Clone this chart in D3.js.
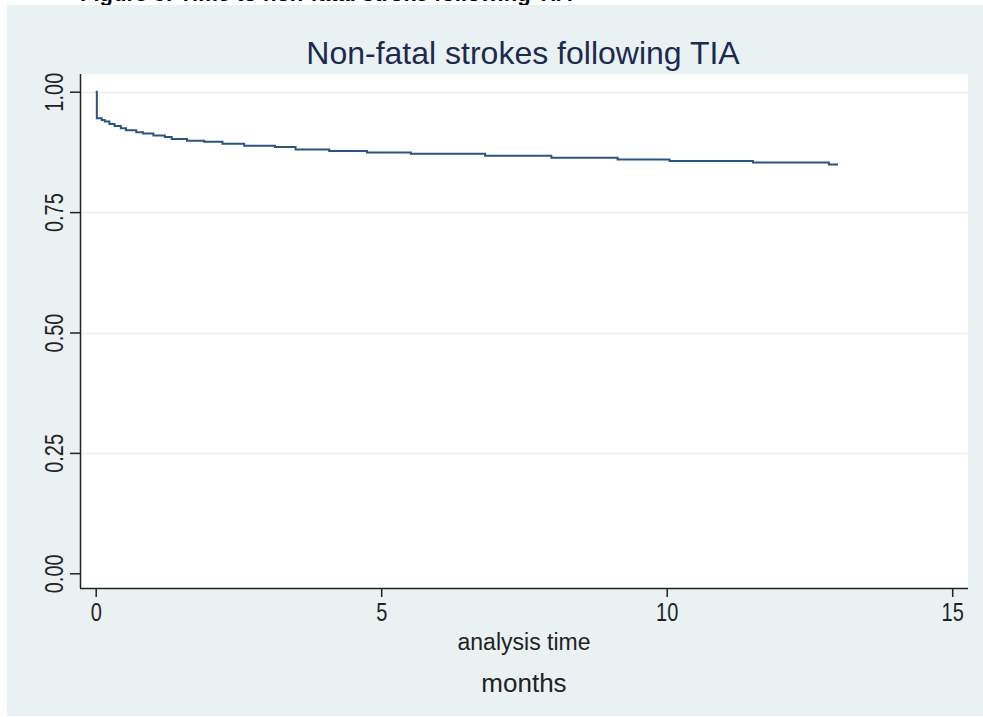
<!DOCTYPE html>
<html>
<head>
<meta charset="utf-8">
<script src="https://cdn.jsdelivr.net/npm/d3@7"></script>
<style>
  html, body { margin: 0; padding: 0; background: #ffffff; }
  svg { display: block; }
</style>
</head>
<body>
<svg id="chart" width="983" height="717"></svg>
<script>
// Kaplan-Meier estimate: time of each step (months) and survival after it
const stepTimes = [0, 0.02, 0.105, 0.16, 0.24, 0.33, 0.44, 0.53, 0.71, 0.83, 1.01, 1.21, 1.33,
  1.60, 1.90, 2.22, 2.60, 3.14, 3.50, 4.09, 4.75, 5.52, 6.82, 7.98, 9.14, 10.05, 11.51, 12.84];
const survival = [1.0, 0.945, 0.941, 0.938, 0.933, 0.929, 0.924, 0.920, 0.916, 0.913, 0.909, 0.906, 0.902,
  0.898, 0.896, 0.892, 0.888, 0.885, 0.880, 0.877, 0.874, 0.871, 0.867, 0.863, 0.859, 0.856, 0.853, 0.849];
const lastTime = 13.0;

const xTicks = [0, 5, 10, 15];
const yTicks = [0, 0.25, 0.5, 0.75, 1.0];
const yTickLabels = ["0.00", "0.25", "0.50", "0.75", "1.00"];

const titleText = "Non-fatal strokes following TIA";
const xTitle = "analysis time";
const xSubTitle = "months";
const captionText = "Figure 3: Time to non-fatal stroke following TIA";

const svg = d3.select("#chart");

// plot region
const region = { left: 80, right: 968, top: 74, bottom: 588 };

const x = d3.scaleLinear().domain([0, 15]).range([95.7, 952.2]);
const y = d3.scaleLinear().domain([0, 1]).range([573.3, 91.7]);

// caption of the surrounding document, running off the top edge
svg.append("text")
  .attr("x", 80).attr("y", 1)
  .attr("font-family", "Liberation Sans, Arial, sans-serif")
  .attr("font-weight", "bold")
  .attr("font-size", 22)
  .attr("fill", "#000")
  .text(captionText);

// graph background
svg.append("rect")
  .attr("x", 7).attr("y", 5).attr("width", 983 - 7).attr("height", 716 - 5)
  .attr("fill", "#eaf1f3");

svg.append("rect")
  .attr("x", region.left).attr("y", region.top)
  .attr("width", region.right - region.left).attr("height", region.bottom - region.top)
  .attr("fill", "#ffffff");

// horizontal grid lines
svg.append("g")
  .selectAll("line")
  .data(yTicks.filter(d => d > 0))
  .join("line")
  .attr("x1", region.left).attr("x2", region.right)
  .attr("y1", d => Math.round(y(d)) + 0.5).attr("y2", d => Math.round(y(d)) + 0.5)
  .attr("stroke", "#e6eff1").attr("stroke-width", 1.5);

// survival curve
const pts = stepTimes.map((t, i) => [t, survival[i]]);
pts.push([lastTime, survival[survival.length - 1]]);

const line = d3.line()
  .x(d => x(d[0]))
  .y(d => y(d[1]))
  .curve(d3.curveStepAfter);

svg.append("path")
  .datum(pts)
  .attr("d", line)
  .attr("fill", "none")
  .attr("stroke", "#2b5482")
  .attr("stroke-width", 2);

// tick labels use a narrowed face
const tickFont = "Liberation Sans, Arial, sans-serif";
const narrow = 0.8;

// y axis
const yAxis = svg.append("g")
  .attr("transform", `translate(${region.left},0)`)
  .call(d3.axisLeft(y).tickValues(yTicks).tickFormat((d, i) => yTickLabels[i]).tickSize(10).tickPadding(6));
yAxis.select(".domain").attr("d", `M0.5,${region.top}V${region.bottom}`).attr("stroke", "#222").attr("stroke-width", 1.5);
yAxis.selectAll(".tick line").attr("stroke", "#222").attr("stroke-width", 1.5);
yAxis.selectAll(".tick text")
  .attr("font-family", tickFont)
  .attr("font-size", 25)
  .attr("fill", "#222")
  .attr("text-anchor", "middle")
  .attr("dy", 0)
  .attr("x", 0)
  .attr("transform", `translate(-17,0) rotate(-90) scale(${narrow},1)`);

// x axis
const xAxis = svg.append("g")
  .attr("transform", `translate(0,${region.bottom})`)
  .call(d3.axisBottom(x).tickValues(xTicks).tickFormat(d3.format("d")).tickSize(9).tickPadding(6));
xAxis.select(".domain").attr("d", `M${region.left},0.5H${region.right}`).attr("stroke", "#222").attr("stroke-width", 1.5);
xAxis.selectAll(".tick line").attr("stroke", "#222").attr("stroke-width", 1.5);
xAxis.selectAll(".tick text")
  .attr("font-family", tickFont)
  .attr("font-size", 25)
  .attr("fill", "#222")
  .attr("dy", 0)
  .attr("y", 0)
  .attr("transform", `translate(0,33) scale(${narrow},1)`);

// titles
svg.append("text")
  .attr("x", 523).attr("y", 64)
  .attr("text-anchor", "middle")
  .attr("font-family", "Liberation Sans, Arial, sans-serif")
  .attr("font-size", 32)
  .attr("fill", "#1c2a4e")
  .text(titleText);

svg.append("text")
  .attr("x", 524).attr("y", 650)
  .attr("text-anchor", "middle")
  .attr("font-family", "Liberation Sans, Arial, sans-serif")
  .attr("font-size", 23)
  .attr("fill", "#222")
  .text(xTitle);

svg.append("text")
  .attr("x", 524).attr("y", 692)
  .attr("text-anchor", "middle")
  .attr("font-family", "Liberation Sans, Arial, sans-serif")
  .attr("font-size", 26)
  .attr("fill", "#222")
  .text(xSubTitle);
</script>
</body>
</html>
